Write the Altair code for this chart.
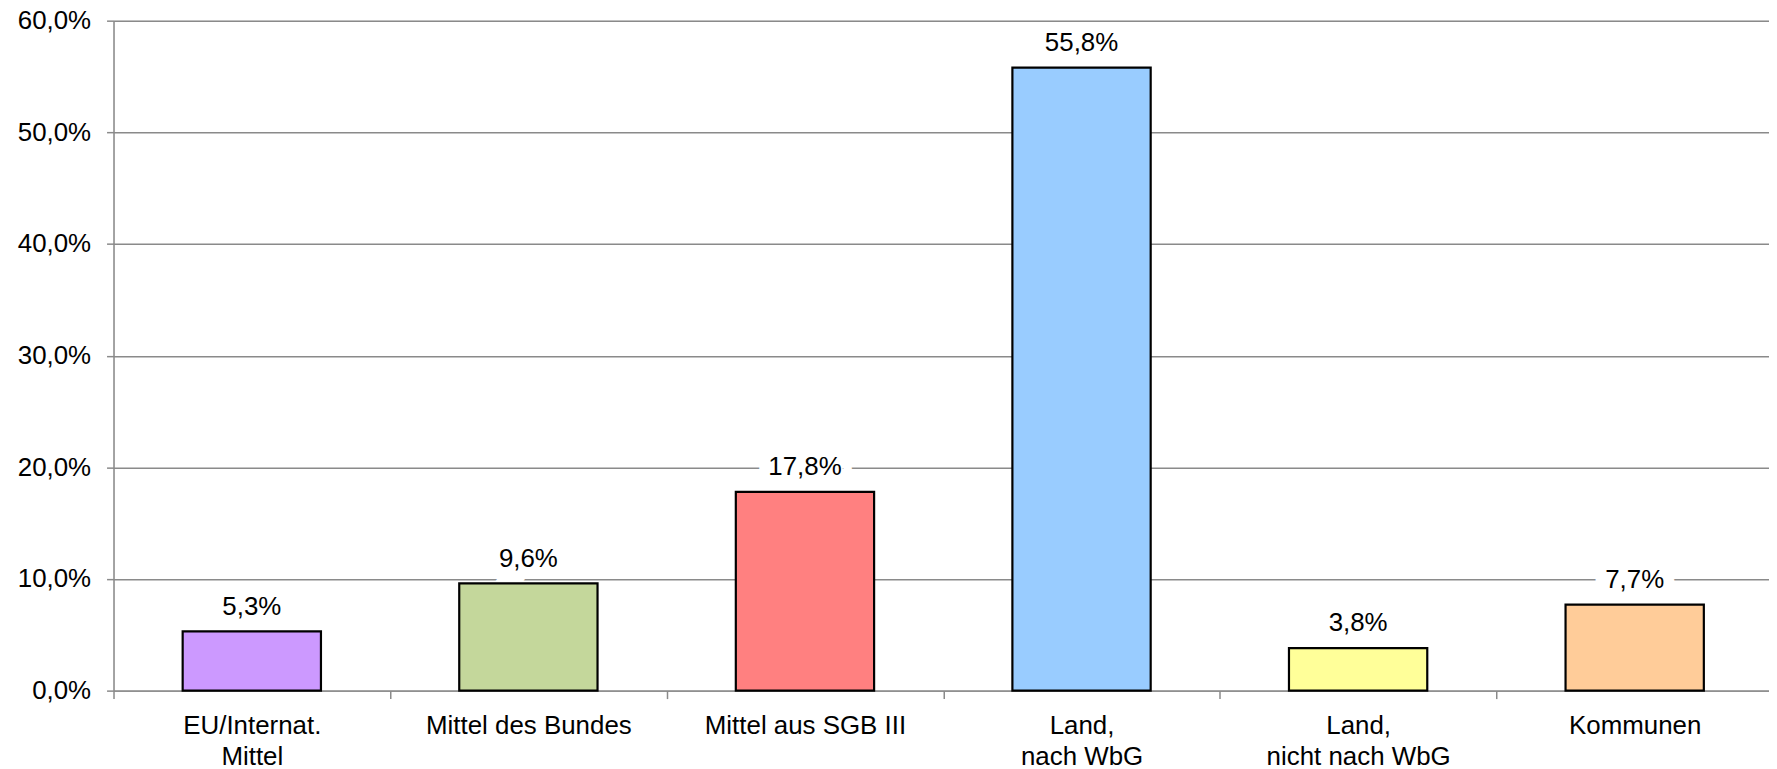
import altair as alt
import pandas as pd

categories = ["EU/Internat.|Mittel", "Mittel des Bundes", "Mittel aus SGB III",
              "Land,|nach WbG", "Land,|nicht nach WbG", "Kommunen"]
values = [5.3, 9.6, 17.8, 55.8, 3.8, 7.7]
colors = ["#CC99FF", "#C4D79B", "#FF8080", "#99CCFF", "#FFFF99", "#FFCC99"]
y_ticks = [0, 10, 20, 30, 40, 50, 60]

df = pd.DataFrame({"cat": categories, "value": values, "color": colors})

FONT = "Liberation Sans"
GRID = "#8A8A8A"
W, H = 1667, 673
HALF_STEP = W / len(categories) / 2

base = alt.Chart(df).transform_calculate(
    label="replace(format(datum.value, '.1f'), '.', ',') + '%'"
)

x = alt.X("cat:N", sort=categories, title=None,
          scale=alt.Scale(paddingInner=0.5, paddingOuter=0.25),
          axis=alt.Axis(labelAngle=0, labelAlign="center", labelBaseline="top",
                        labelExpr="split(datum.label, '|')",
                        labelFontSize=26, labelFont=FONT, labelColor="#000000",
                        labelLineHeight=31, labelPadding=14, labelLimit=400,
                        tickOffset=-HALF_STEP, labelOffset=HALF_STEP,
                        tickSize=8, tickColor=GRID, tickWidth=1.5,
                        domainColor=GRID, domainWidth=1.5, grid=False))

y = alt.Y("value:Q", title=None,
          scale=alt.Scale(domain=[0, 60], nice=False),
          axis=alt.Axis(values=y_ticks,
                        labelExpr="replace(format(datum.value, '.1f'), '.', ',') + '%'",
                        labelFontSize=26, labelFont=FONT, labelColor="#000000",
                        labelPadding=16, tickSize=7, tickColor=GRID, tickWidth=1.5,
                        domainColor=GRID, domainWidth=1.5,
                        grid=True, gridColor=GRID, gridWidth=1.5))

bars = base.mark_bar(stroke="#000000", strokeWidth=2.2).encode(
    x=x, y=y,
    color=alt.Color("color:N", scale=None),
)

label_bg = base.mark_text(baseline="alphabetic", dy=-17, fontSize=26, font=FONT,
                          color="#FFFFFF", stroke="#FFFFFF", strokeWidth=22,
                          strokeJoin="miter").encode(
    x=alt.X("cat:N", sort=categories), y="value:Q", text="label:N")

labels = base.mark_text(baseline="alphabetic", dy=-17, fontSize=26, font=FONT,
                        color="#000000").encode(
    x=alt.X("cat:N", sort=categories), y="value:Q", text="label:N")

chart = alt.layer(label_bg, bars, labels).properties(
    width=W, height=H,
    autosize=alt.AutoSizeParams(type="none"),
    padding={"left": 106, "top": 11, "right": -4, "bottom": 77},
).configure_view(stroke=None).configure(background="#FFFFFF")

chart.save("out.html", embed_options={"renderer": "svg", "actions": False})
